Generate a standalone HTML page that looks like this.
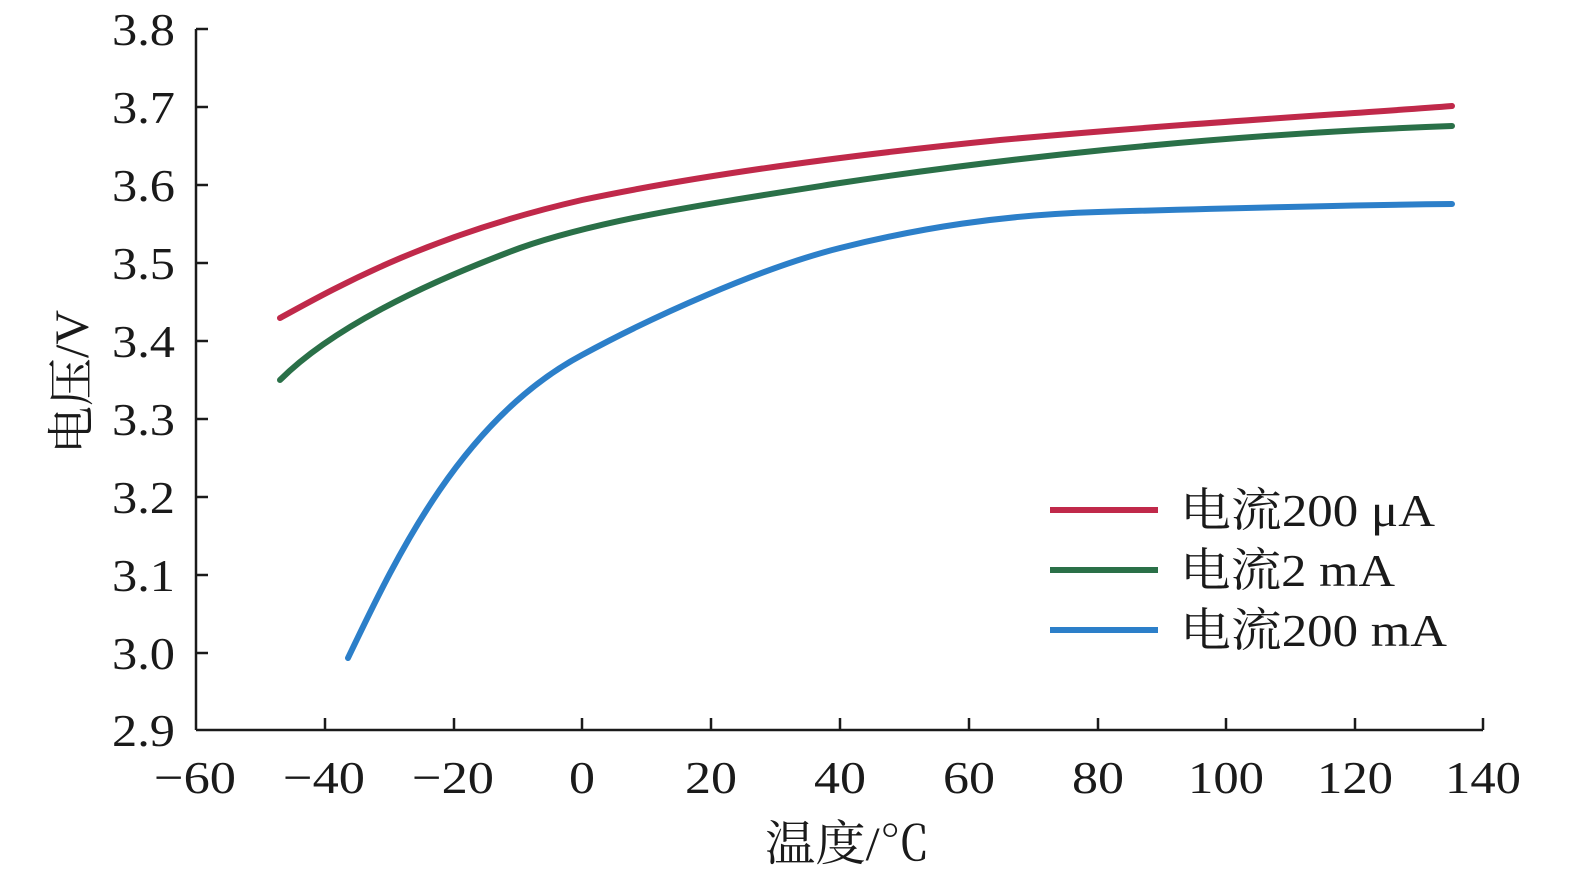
<!DOCTYPE html>
<html><head><meta charset="utf-8"><style>
html,body{margin:0;padding:0;background:#fff;}
svg text{font-family:"Liberation Serif","Noto Serif CJK SC",serif;fill:#1a1a1a;}
</style></head><body>
<svg width="1575" height="890" viewBox="0 0 1575 890" xmlns="http://www.w3.org/2000/svg">
<g stroke="#1a1a1a" stroke-width="2.5" fill="none">
<line x1="196" y1="29" x2="196" y2="730"/>
<line x1="196" y1="730" x2="1483" y2="730"/>
<line x1="196" y1="29" x2="208" y2="29"/><line x1="196" y1="107" x2="208" y2="107"/>
<line x1="196" y1="185" x2="208" y2="185"/><line x1="196" y1="263" x2="208" y2="263"/>
<line x1="196" y1="341" x2="208" y2="341"/><line x1="196" y1="419" x2="208" y2="419"/>
<line x1="196" y1="497" x2="208" y2="497"/><line x1="196" y1="575" x2="208" y2="575"/>
<line x1="196" y1="653" x2="208" y2="653"/>
<line x1="325" y1="730" x2="325" y2="718"/><line x1="454" y1="730" x2="454" y2="718"/>
<line x1="582" y1="730" x2="582" y2="718"/><line x1="711" y1="730" x2="711" y2="718"/>
<line x1="840" y1="730" x2="840" y2="718"/><line x1="969" y1="730" x2="969" y2="718"/>
<line x1="1098" y1="730" x2="1098" y2="718"/><line x1="1226" y1="730" x2="1226" y2="718"/>
<line x1="1355" y1="730" x2="1355" y2="718"/><line x1="1483" y1="730" x2="1483" y2="718"/>
</g>
<g font-size="46">
<text x="112" y="45" textLength="63" lengthAdjust="spacingAndGlyphs">3.8</text>
<text x="112" y="123" textLength="63" lengthAdjust="spacingAndGlyphs">3.7</text>
<text x="112" y="201" textLength="63" lengthAdjust="spacingAndGlyphs">3.6</text>
<text x="112" y="279" textLength="63" lengthAdjust="spacingAndGlyphs">3.5</text>
<text x="112" y="357" textLength="63" lengthAdjust="spacingAndGlyphs">3.4</text>
<text x="112" y="435" textLength="63" lengthAdjust="spacingAndGlyphs">3.3</text>
<text x="112" y="513" textLength="63" lengthAdjust="spacingAndGlyphs">3.2</text>
<text x="112" y="591" textLength="63" lengthAdjust="spacingAndGlyphs">3.1</text>
<text x="112" y="669" textLength="63" lengthAdjust="spacingAndGlyphs">3.0</text>
<text x="112" y="746" textLength="63" lengthAdjust="spacingAndGlyphs">2.9</text>
</g>
<g font-size="46" lengthAdjust="spacingAndGlyphs">
<text x="154" y="793" textLength="82" lengthAdjust="spacingAndGlyphs">−60</text>
<text x="283" y="793" textLength="82" lengthAdjust="spacingAndGlyphs">−40</text>
<text x="412" y="793" textLength="82" lengthAdjust="spacingAndGlyphs">−20</text>
<text x="569" y="793" textLength="26" lengthAdjust="spacingAndGlyphs">0</text>
<text x="685" y="793" textLength="52" lengthAdjust="spacingAndGlyphs">20</text>
<text x="814" y="793" textLength="52" lengthAdjust="spacingAndGlyphs">40</text>
<text x="943" y="793" textLength="52" lengthAdjust="spacingAndGlyphs">60</text>
<text x="1072" y="793" textLength="52" lengthAdjust="spacingAndGlyphs">80</text>
<text x="1188" y="793" textLength="76" lengthAdjust="spacingAndGlyphs">100</text>
<text x="1317" y="793" textLength="76" lengthAdjust="spacingAndGlyphs">120</text>
<text x="1445" y="793" textLength="76" lengthAdjust="spacingAndGlyphs">140</text>
</g>
<text font-size="48" x="765" y="860" textLength="165" lengthAdjust="spacingAndGlyphs">温度/℃</text>
<text font-size="48" text-anchor="middle" transform="translate(88,382) rotate(-90)">电压/V</text>
<g fill="none" stroke-width="6" stroke-linecap="round" stroke-linejoin="round">
<path stroke="#c0294a" d="M280,318 C340,285 430,235 582,200 C700,175 850,155 1000,140 C1200,122 1350,114 1452,106"/>
<path stroke="#2a7048" d="M280,380 C330,330 420,285 520,248 C600,220 700,205 840,183 C980,162 1200,135 1452,126"/>
<path stroke="#2c7fc9" d="M348,658 C395,560 460,420 582,355 C650,318 760,268 840,248 C920,228 1000,215 1098,212 C1200,209 1350,205 1452,204"/>
</g>
<g stroke-width="6">
<line x1="1050" y1="510" x2="1158" y2="510" stroke="#c0294a"/>
<line x1="1050" y1="570" x2="1158" y2="570" stroke="#2a7048"/>
<line x1="1050" y1="630" x2="1158" y2="630" stroke="#2c7fc9"/>
</g>
<g font-size="46">
<text x="1180" y="526" textLength="255" lengthAdjust="spacingAndGlyphs">电流200 μA</text>
<text x="1180" y="586" textLength="215" lengthAdjust="spacingAndGlyphs">电流2 mA</text>
<text x="1180" y="646" textLength="267" lengthAdjust="spacingAndGlyphs">电流200 mA</text>
</g>
</svg>
</body></html>
